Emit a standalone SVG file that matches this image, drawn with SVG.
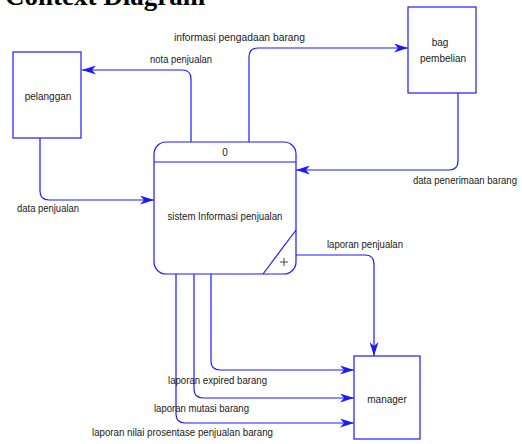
<svg xmlns="http://www.w3.org/2000/svg" width="522" height="444" viewBox="0 0 522 444">
<style>
.box{fill:#fff;stroke:#1a1aff;stroke-width:1.2}
.ln{fill:none;stroke:#1a1aff;stroke-width:1.2}
.t{font-family:"Liberation Sans",Arial,sans-serif;font-size:10px;fill:#1a1a1a}
.c{text-anchor:middle}
.title{font-family:"Liberation Serif","Times New Roman",serif;font-size:27px;font-weight:bold;fill:#000}
</style>
<defs>
<marker id="ah" markerUnits="userSpaceOnUse" markerWidth="15" markerHeight="9" refX="14" refY="4.5" orient="auto">
<path d="M0,0 L14,4.5 L0,9 L4,4.5 Z" fill="#1a1aff"/>
</marker>
</defs>
<rect width="522" height="444" fill="#fff"/>
<text class="title" x="5" y="5">Context Diagram</text>
<g id="connectors">
<path class="ln" d="M191,142 V79 Q191,70 182,70 H82" marker-end="url(#ah)"/>
<path class="ln" d="M249,142 V57 Q249,48 258,48 H408" marker-end="url(#ah)"/>
<path class="ln" d="M458,93 V161 Q458,170 449,170 H296" marker-end="url(#ah)"/>
<path class="ln" d="M40,138 V191 Q40,200 49,200 H154" marker-end="url(#ah)"/>
<path class="ln" d="M296,255 H365 Q374,255 374,264 V356" marker-end="url(#ah)"/>
<path class="ln" d="M211,274 V361 Q211,370 220,370 H354" marker-end="url(#ah)"/>
<path class="ln" d="M194,274 V389 Q194,398 203,398 H354" marker-end="url(#ah)"/>
<path class="ln" d="M176,274 V414 Q176,423 185,423 H354" marker-end="url(#ah)"/>
<text class="t" x="150" y="63" textLength="62" lengthAdjust="spacingAndGlyphs">nota penjualan</text>
<text class="t" x="174" y="41" textLength="131" lengthAdjust="spacingAndGlyphs">informasi pengadaan barang</text>
<text class="t" x="413" y="184" textLength="104" lengthAdjust="spacingAndGlyphs">data penerimaan barang</text>
<text class="t" x="17" y="212" textLength="62" lengthAdjust="spacingAndGlyphs">data penjualan</text>
<text class="t" x="327" y="248" textLength="76" lengthAdjust="spacingAndGlyphs">laporan penjualan</text>
<text class="t" x="168" y="384" textLength="99" lengthAdjust="spacingAndGlyphs">laporan expired barang</text>
<text class="t" x="154" y="412" textLength="95" lengthAdjust="spacingAndGlyphs">laporan mutasi barang</text>
<text class="t" x="92" y="436" textLength="181" lengthAdjust="spacingAndGlyphs">laporan nilai prosentase penjualan barang</text>
</g>
<g id="pelanggan">
<rect class="box" x="13" y="52" width="68" height="86"/>
<text class="t c" x="48" y="100">pelanggan</text>
</g>
<g id="bag-pembelian">
<rect class="box" x="408" y="7" width="68" height="86"/>
<text class="t c" x="440" y="46">bag</text>
<text class="t c" x="443" y="62">pembelian</text>
</g>
<g id="process-0">
<rect class="box" x="154" y="142" width="142" height="132" rx="12" ry="12"/>
<line class="ln" x1="154" y1="162" x2="296" y2="162"/>
<line class="ln" x1="263" y1="274" x2="296" y2="230"/>
<text class="t c" x="225" y="156">0</text>
<text class="t c" x="225" y="220" textLength="115" lengthAdjust="spacingAndGlyphs">sistem Informasi penjualan</text>
<path d="M280,262 H288 M284,258 V266" stroke="#333" stroke-width="0.9" fill="none"/>
</g>
<g id="manager">
<rect class="box" x="354" y="356" width="66" height="83"/>
<text class="t c" x="387" y="403">manager</text>
</g>
</svg>
